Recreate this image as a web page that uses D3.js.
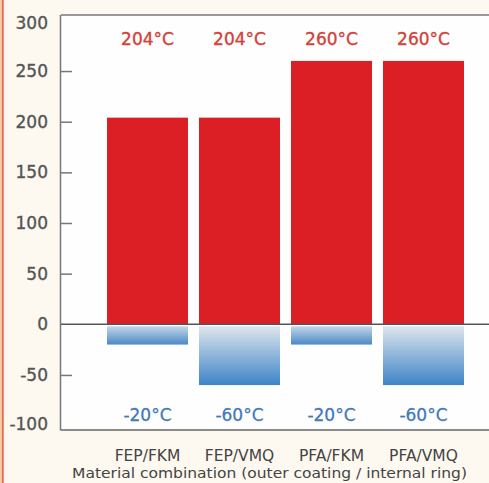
<!DOCTYPE html>
<html>
<head>
<meta charset="utf-8">
<script src="https://cdnjs.cloudflare.com/ajax/libs/d3/7.8.5/d3.min.js"></script>
<style>
  html, body { margin: 0; padding: 0; background: #fdf8f0; }
  svg { display: block; }
</style>
</head>
<body>
<svg id="chart" width="489" height="483"></svg>
<script>
const categories = ["FEP/FKM", "FEP/VMQ", "PFA/FKM", "PFA/VMQ"];
const maxTemps = [204, 204, 260, 260];
const minTemps = [-20, -60, -20, -60];
const maxLabels = ["204°C", "204°C", "260°C", "260°C"];
const minLabels = ["-20°C", "-60°C", "-20°C", "-60°C"];
const yTicks = [300, 250, 200, 150, 100, 50, 0, -50, -100];
const xTitle = "Material combination (outer coating / internal ring)";

const svg = d3.select("#chart");
const W = 489, H = 483;
const font = "'DejaVu Sans', sans-serif";

// background
svg.append("rect").attr("x", 0).attr("y", 0).attr("width", W).attr("height", H).attr("fill", "#fdf8f0");
svg.append("rect").attr("x", 0).attr("y", 0).attr("width", 4).attr("height", H).attr("fill", "#f6c9a8");
svg.append("rect").attr("x", 2).attr("y", 0).attr("width", 1.5).attr("height", H).attr("fill", "#e8634a");

const y = d3.scaleLinear().domain([-100, 300]).range([425.6, 20.4]);
const x = d3.scaleBand().domain(categories).range([101.5, 469.5])
  .paddingInner(11 / 92).paddingOuter(5.5 / 92);

// plot area
svg.append("rect").attr("x", 61).attr("y", 15).attr("width", W - 61).attr("height", 430 - 15).attr("fill", "#fefefe");
svg.append("line").attr("x1", 61).attr("x2", W).attr("y1", 15).attr("y2", 15).attr("stroke", "#777").attr("stroke-width", 1.5);
svg.append("line").attr("x1", 61).attr("x2", W).attr("y1", 430).attr("y2", 430).attr("stroke", "#666").attr("stroke-width", 1.5);
svg.append("line").attr("x1", 60.5).attr("x2", 60.5).attr("y1", 15).attr("y2", 430.5).attr("stroke", "#777").attr("stroke-width", 1.5);

// gradients
const defs = svg.append("defs");
function grad(id, c0, c1) {
  const g = defs.append("linearGradient").attr("id", id).attr("x1", 0).attr("y1", 0).attr("x2", 0).attr("y2", 1);
  g.append("stop").attr("offset", "0%").attr("stop-color", c0);
  g.append("stop").attr("offset", "100%").attr("stop-color", c1);
}
grad("blueShort", "#c3d6e8", "#4a89c6");
grad("blueLong", "#dde5ec", "#3d84c6");

// y axis
const yAxis = d3.axisLeft(y).tickValues(yTicks).tickSize(0).tickPadding(0).tickFormat(d => d);
const ya = svg.append("g").attr("transform", "translate(60,0)").call(yAxis);
ya.select(".domain").remove();
ya.selectAll(".tick text").attr("x", -12).attr("font-family", font).attr("font-size", 17)
  .attr("fill", "#555").attr("stroke", "#555").attr("stroke-width", 0.35);
ya.selectAll(".tick").filter(d => d !== 300 && d !== -100 && d !== 0).append("line")
  .attr("x1", 0).attr("x2", 12).attr("stroke", "#777").attr("stroke-width", 1.5);
ya.selectAll(".tick").filter(d => d === 300).select("text").attr("dy", "0.5em");
ya.selectAll(".tick").filter(d => d === -100).select("text").attr("dy", "0.2em");

// red bars
svg.append("g").selectAll("rect").data(categories).join("rect")
  .attr("x", d => x(d)).attr("width", x.bandwidth())
  .attr("y", (d, i) => y(maxTemps[i])).attr("height", (d, i) => y(0) - y(maxTemps[i]))
  .attr("fill", "#dc1e25");

// blue bars
svg.append("g").selectAll("rect").data(categories).join("rect")
  .attr("x", d => x(d)).attr("width", x.bandwidth())
  .attr("y", y(0) + 2).attr("height", (d, i) => y(minTemps[i]) - y(0) - 2)
  .attr("fill", (d, i) => minTemps[i] < -40 ? "url(#blueLong)" : "url(#blueShort)");

// zero line
svg.append("line").attr("x1", 61).attr("x2", W).attr("y1", y(0)).attr("y2", y(0))
  .attr("stroke", "#555").attr("stroke-width", 1.5);

// labels
svg.append("g").selectAll("text").data(categories).join("text")
  .attr("x", d => x(d) + x.bandwidth() / 2).attr("y", 44.5)
  .attr("text-anchor", "middle").attr("font-family", font).attr("font-size", 17)
  .attr("fill", "#d5403a").attr("stroke", "#d5403a").attr("stroke-width", 0.35)
  .text((d, i) => maxLabels[i]);

svg.append("g").selectAll("text").data(categories).join("text")
  .attr("x", d => x(d) + x.bandwidth() / 2).attr("y", 420.5)
  .attr("text-anchor", "middle").attr("font-family", font).attr("font-size", 17)
  .attr("fill", "#4279bd").attr("stroke", "#4279bd").attr("stroke-width", 0.3)
  .text((d, i) => minLabels[i]);

// category labels
svg.append("g").selectAll("text").data(categories).join("text")
  .attr("x", d => x(d) + x.bandwidth() / 2).attr("y", 461)
  .attr("text-anchor", "middle").attr("font-family", font).attr("font-size", 15.5)
  .attr("fill", "#444").text(d => d);

svg.append("text").attr("x", 269.5).attr("y", 477.5).attr("text-anchor", "middle")
  .attr("font-family", font).attr("font-size", 14).attr("fill", "#444")
  .attr("textLength", 395).attr("lengthAdjust", "spacingAndGlyphs").text(xTitle);
</script>
</body>
</html>
